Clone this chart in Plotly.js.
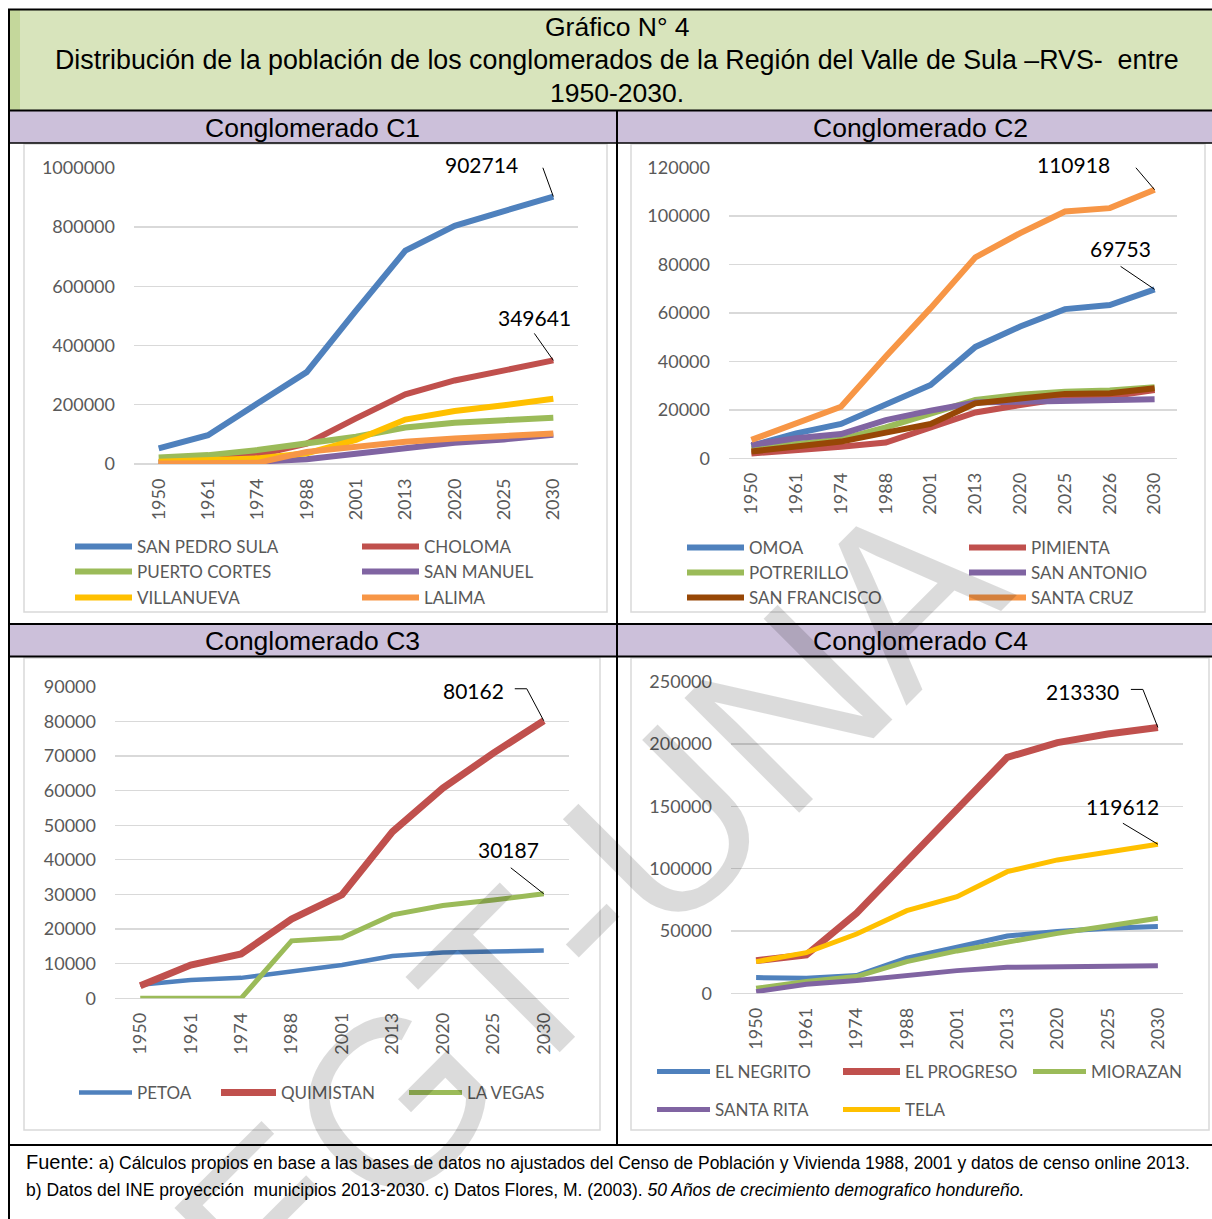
<!DOCTYPE html>
<html><head><meta charset="utf-8">
<script src="https://cdn.plot.ly/plotly-3.0.1.min.js"></script>
<style>html,body{margin:0;padding:0;background:#fff}</style>
</head><body><div id="chart" style="width:1212px;height:1219px"></div>
<script>
// ---------- DATA ----------
const yearsA = ['1950','1961','1974','1988','2001','2013','2020','2025','2030'];
const yearsC2 = ['1950','1961','1974','1988','2001','2013','2020','2025','2026','2030'];

// Conglomerado C1
const sanPedroSula = [53000, 97000, 204000, 310000, 518000, 720000, 804000, 854000, 902714];
const choloma      = [6000, 14000, 30000, 69000, 154000, 235000, 282000, 316000, 349641];
const puertoCortes = [22000, 30000, 47000, 67000, 92000, 123000, 139000, 148000, 156000];
const sanManuel    = [3000, 5000, 8000, 16000, 34000, 56000, 72000, 83000, 99000];
const villanueva   = [8000, 12000, 19000, 36000, 81000, 150000, 179000, 198000, 220000];
const lalima       = [2000, 3000, 4000, 41000, 58000, 75000, 86000, 94000, 103000];

// Conglomerado C2
const omoa         = [5100, 10300, 14200, 22000, 30300, 46000, 54400, 61600, 63300, 69753];
const pimienta     = [2000, 3200, 4800, 6500, 12800, 18900, 22000, 24800, 25500, 28200];
const potrerillo   = [4000, 6200, 7800, 12800, 18300, 24100, 26200, 27500, 28000, 29300];
const sanAntonio   = [5500, 8300, 10000, 15800, 19700, 23000, 23400, 23800, 24000, 24400];
const sanFrancisco = [2800, 5100, 6900, 10600, 14200, 22700, 24800, 26600, 26900, 28900];
const santaCruz    = [7600, 14500, 21300, 42000, 62000, 83000, 93000, 101900, 103300, 110918];

// Conglomerado C3
const petoa     = [3900, 5300, 5900, 7700, 9600, 12200, 13200, 13500, 13800];
const quimistan = [3600, 9600, 12800, 22900, 29900, 48100, 60700, 70800, 80162];
const laVegas   = [0, 0, 0, 16600, 17500, 24100, 26800, 28400, 30187];

// Conglomerado C4
const elNegrito  = [12600, 12000, 14200, 28100, 36900, 46000, 49500, 52100, 53500];
const elProgreso = [26200, 30800, 64200, 105600, 147100, 189300, 201100, 208000, 213330];
const miorazan   = [4000, 9400, 13400, 25400, 34000, 41400, 48100, 54000, 60200];
const santaRita  = [1300, 7200, 10200, 14700, 18200, 20900, 21400, 21900, 22200];
const tela       = [25400, 32600, 47600, 66300, 77500, 97600, 107000, 113600, 119612];

// ---------- HELPERS ----------
const W = 1212, H = 1219;
const px = v => v / W;
const py = v => 1 - v / H;
const C = {blue:'#4f81bd', red:'#c0504d', green:'#9bbb59', purple:'#8064a2',
           orange:'#f79646', yellow:'#ffc000', brown:'#974706'};

const series = [
  // [name, x, y, color, width, axisSuffix, legendLineStartX, legendCenterY, itemwidth]
  ['SAN PEDRO SULA', yearsA, sanPedroSula, C.blue, 6, '', 75, 547, 57],
  ['CHOLOMA', yearsA, choloma, C.red, 6, '', 362, 547, 57],
  ['PUERTO CORTES', yearsA, puertoCortes, C.green, 6, '', 75, 572, 57],
  ['SAN MANUEL', yearsA, sanManuel, C.purple, 6, '', 362, 572, 57],
  ['VILLANUEVA', yearsA, villanueva, C.yellow, 6, '', 75, 598, 57],
  ['LALIMA', yearsA, lalima, C.orange, 6, '', 362, 598, 57],
  ['OMOA', yearsC2, omoa, C.blue, 6, '2', 687, 548, 57],
  ['PIMIENTA', yearsC2, pimienta, C.red, 6, '2', 969, 548, 57],
  ['POTRERILLO', yearsC2, potrerillo, C.green, 6, '2', 687, 573, 57],
  ['SAN ANTONIO', yearsC2, sanAntonio, C.purple, 6, '2', 969, 573, 57],
  ['SAN FRANCISCO', yearsC2, sanFrancisco, C.brown, 6, '2', 687, 598, 57],
  ['SANTA CRUZ', yearsC2, santaCruz, C.orange, 6, '2', 969, 598, 57],
  ['PETOA', yearsA, petoa, C.blue, 4.5, '3', 79, 1093, 53],
  ['QUIMISTAN', yearsA, quimistan, C.red, 7, '3', 221, 1093, 55],
  ['LA VEGAS', yearsA, laVegas, C.green, 5, '3', 409, 1093, 53],
  ['EL NEGRITO', yearsA, elNegrito, C.blue, 5, '4', 657, 1072, 53],
  ['EL PROGRESO', yearsA, elProgreso, C.red, 7, '4', 843, 1072, 57],
  ['MIORAZAN', yearsA, miorazan, C.green, 5, '4', 1033, 1072, 53],
  ['SANTA RITA', yearsA, santaRita, C.purple, 5, '4', 657, 1110, 53],
  ['TELA', yearsA, tela, C.yellow, 5, '4', 843, 1110, 57]
];

const legendFont = {family:'Lato', size:17, color:'#595959'};
const layout = {
  width: W, height: H,
  margin: {l:0, r:0, t:0, b:0},
  paper_bgcolor: '#ffffff', plot_bgcolor: 'rgba(0,0,0,0)',
  hovermode: false,
  font: {family:'Lato', color:'#595959'},
  annotations: [], shapes: []
};

const traces = series.map((s, i) => {
  const lid = 'legend' + (i === 0 ? '' : (i + 1));
  layout[lid] = {
    x: px(s[6] - 5), xanchor: 'left', y: py(s[7]), yanchor: 'middle',
    bgcolor: 'rgba(0,0,0,0)', borderwidth: 0, itemwidth: s[8],
    font: legendFont, orientation: 'v'
  };
  return {
    type: 'scatter', mode: 'lines', name: s[0], x: s[1], y: s[2],
    line: {color: s[3], width: s[4]},
    xaxis: 'x' + s[5], yaxis: 'y' + s[5], legend: lid, showlegend: true
  };
});

// axes
function xax(d0, d1, n, anchor) {
  return {domain:[px(d0), px(d1)], type:'category', range:[-0.5, n - 0.5], autorange:false,
    anchor:anchor, tickangle:-90, showgrid:false, zeroline:false, showline:false, ticks:'',
    ticklabelstandoff: 10, tickfont:{family:'Lato', size:18, color:'#595959'}, fixedrange:true};
}
function yax(top, bot, max, dt, anchor) {
  return {domain:[py(bot), py(top)], range:[0, max], autorange:false, dtick:dt, tick0:0,
    anchor:anchor, showgrid:true, gridcolor:'#d9d9d9', gridwidth:1.3, zeroline:true,
    zerolinecolor:'#d9d9d9', zerolinewidth:1.3, showline:false, ticks:'', tickformat:'d',
    ticklabelstandoff: 18, tickfont:{family:'Lato', size:18, color:'#595959'}, fixedrange:true};
}
layout.xaxis  = xax(134, 578, yearsA.length, 'y');
layout.yaxis  = yax(167.7, 464, 1000000, 200000, 'x');
layout.xaxis2 = xax(729, 1177, yearsC2.length, 'y2');
layout.yaxis2 = yax(167.7, 458.3, 120000, 20000, 'x2');
layout.xaxis3 = xax(115, 569, yearsA.length, 'y3');
layout.yaxis3 = yax(686.7, 998.3, 90000, 10000, 'x3');
layout.xaxis4 = xax(731, 1183, yearsA.length, 'y4');
layout.yaxis4 = yax(681.7, 993.3, 250000, 50000, 'x4');

// ---------- TABLE FRAME ----------
const S = layout.shapes;
function rect(x0,y0,x1,y1,fill,lc,lw,layer){
  S.push({type:'rect', xref:'paper', yref:'paper', x0:px(x0), x1:px(x1), y0:py(y0), y1:py(y1),
    fillcolor:fill, line:{color:lc||'rgba(0,0,0,0)', width:lw||0}, layer:layer||'below'});
}
function ln(x0,y0,x1,y1,color,w){
  S.push({type:'line', xref:'paper', yref:'paper', x0:px(x0), x1:px(x1), y0:py(y0), y1:py(y1),
    line:{color:color, width:w}, layer:'below'});
}
rect(10, 10, 1212, 110, '#d8e4bc');
rect(10, 10, 20, 110, '#c4d79b');
rect(10, 111, 1212, 143, '#ccc0da');
rect(10, 625, 1212, 656, '#ccc0da');
rect(24, 144, 607, 612, 'rgba(0,0,0,0)', '#d9d9d9', 1.5);
rect(631, 144, 1205, 612, 'rgba(0,0,0,0)', '#d9d9d9', 1.5);
rect(24, 658, 600, 1130, 'rgba(0,0,0,0)', '#d9d9d9', 1.5);
rect(631, 658, 1209, 1130, 'rgba(0,0,0,0)', '#d9d9d9', 1.5);
ln(8, 9.5, 1212, 9.5, '#000', 2);
ln(9, 9, 9, 1219, '#000', 2);
ln(9, 110.5, 1212, 110.5, '#000', 2);
ln(9, 143, 1212, 143, '#000', 1.5);
ln(9, 624, 1212, 624, '#000', 2);
ln(9, 656.5, 1212, 656.5, '#000', 2);
ln(9, 1145, 1212, 1145, '#000', 2);
ln(617, 110, 617, 1145, '#000', 2);

// ---------- TEXT ----------
const A = layout.annotations;
function txt(x, y, t, size, family, anchor, color) {
  A.push({xref:'paper', yref:'paper', x:px(x), y:py(y), text:t, showarrow:false,
    xanchor:anchor||'center', yanchor:'middle', font:{family:family||'Liberation Sans', size:size, color:color||'#000'}});
}
txt(617, 27, 'Gráfico N° 4', 26.5);
txt(617, 60, 'Distribución de la población de los conglomerados de la Región del Valle de Sula –RVS-&nbsp; entre', 26.8);
txt(617, 93, '1950-2030.', 26.5);
txt(312, 128, 'Conglomerado C1', 26.5);
txt(920, 128, 'Conglomerado C2', 26.5);
txt(312, 641, 'Conglomerado C3', 26.5);
txt(920, 641, 'Conglomerado C4', 26.5);
txt(24, 1162, '<span style="font-size:20px">Fuente:</span> a) Cálculos propios en base a las bases de datos no ajustados del Censo de Población y Vivienda 1988, 2001 y datos de censo online 2013.', 17.5, 'Liberation Sans', 'left');
txt(24, 1190, 'b) Datos del INE proyección&nbsp; municipios 2013-2030. c) Datos Flores, M. (2003). <i>50 Años de crecimiento demografico hondureño.</i>', 17.5, 'Liberation Sans', 'left');

// ---------- END-VALUE LABELS WITH LEADER LINES ----------
// [x categories, values, axis suffix, text anchor, xshift, yshift, leader path (pixels from point)]
const labels = [
  [yearsA, sanPedroSula, '', 'right', -33, 32, 'M0,0 L-12,33 L-23,33'],
  [yearsA, choloma, '', 'center', -19, 43, 'M0,0 L-19,27'],
  [yearsC2, santaCruz, '2', 'right', -43, 25, 'M0,0 L-23,27 L-34,27'],
  [yearsC2, omoa, '2', 'center', -34, 41, 'M0,0 L-34,23'],
  [yearsA, quimistan, '3', 'right', -38, 30, 'M0,0 L-17,32 L-29,32'],
  [yearsA, laVegas, '3', 'center', -35, 44, 'M0,0 L-33,26'],
  [yearsA, elProgreso, '4', 'right', -37, 36, 'M0,0 L-15,38 L-27,38'],
  [yearsA, tela, '4', 'center', -35, 38, 'M0,0 L-35,21']
];
labels.forEach(l => {
  const idx = l[0].length - 1;
  const val = l[1][idx];
  A.push({xref:'x' + l[2], yref:'y' + l[2], x: idx, y: val, text: String(val), showarrow:false,
    xanchor: l[3], yanchor:'middle', xshift: l[4], yshift: l[5],
    font:{family:'Lato', size:21, color:'#000'}});
  S.push({type:'path', xref:'x' + l[2], yref:'y' + l[2], xsizemode:'pixel', ysizemode:'pixel',
    xanchor: idx, yanchor: val, path: l[6], line:{color:'#000', width:1}, layer:'above'});
});

// watermark
A.push({xref:'paper', yref:'paper', x:px(588), y:py(908), text:'EGT-UNA', showarrow:false,
  textangle:-45, xanchor:'center', yanchor:'middle',
  font:{family:'Liberation Sans', size:236, color:'rgba(0,0,0,0.14)'}});

Plotly.newPlot('chart', traces, layout, {staticPlot:true, displayModeBar:false});
</script></body></html>
